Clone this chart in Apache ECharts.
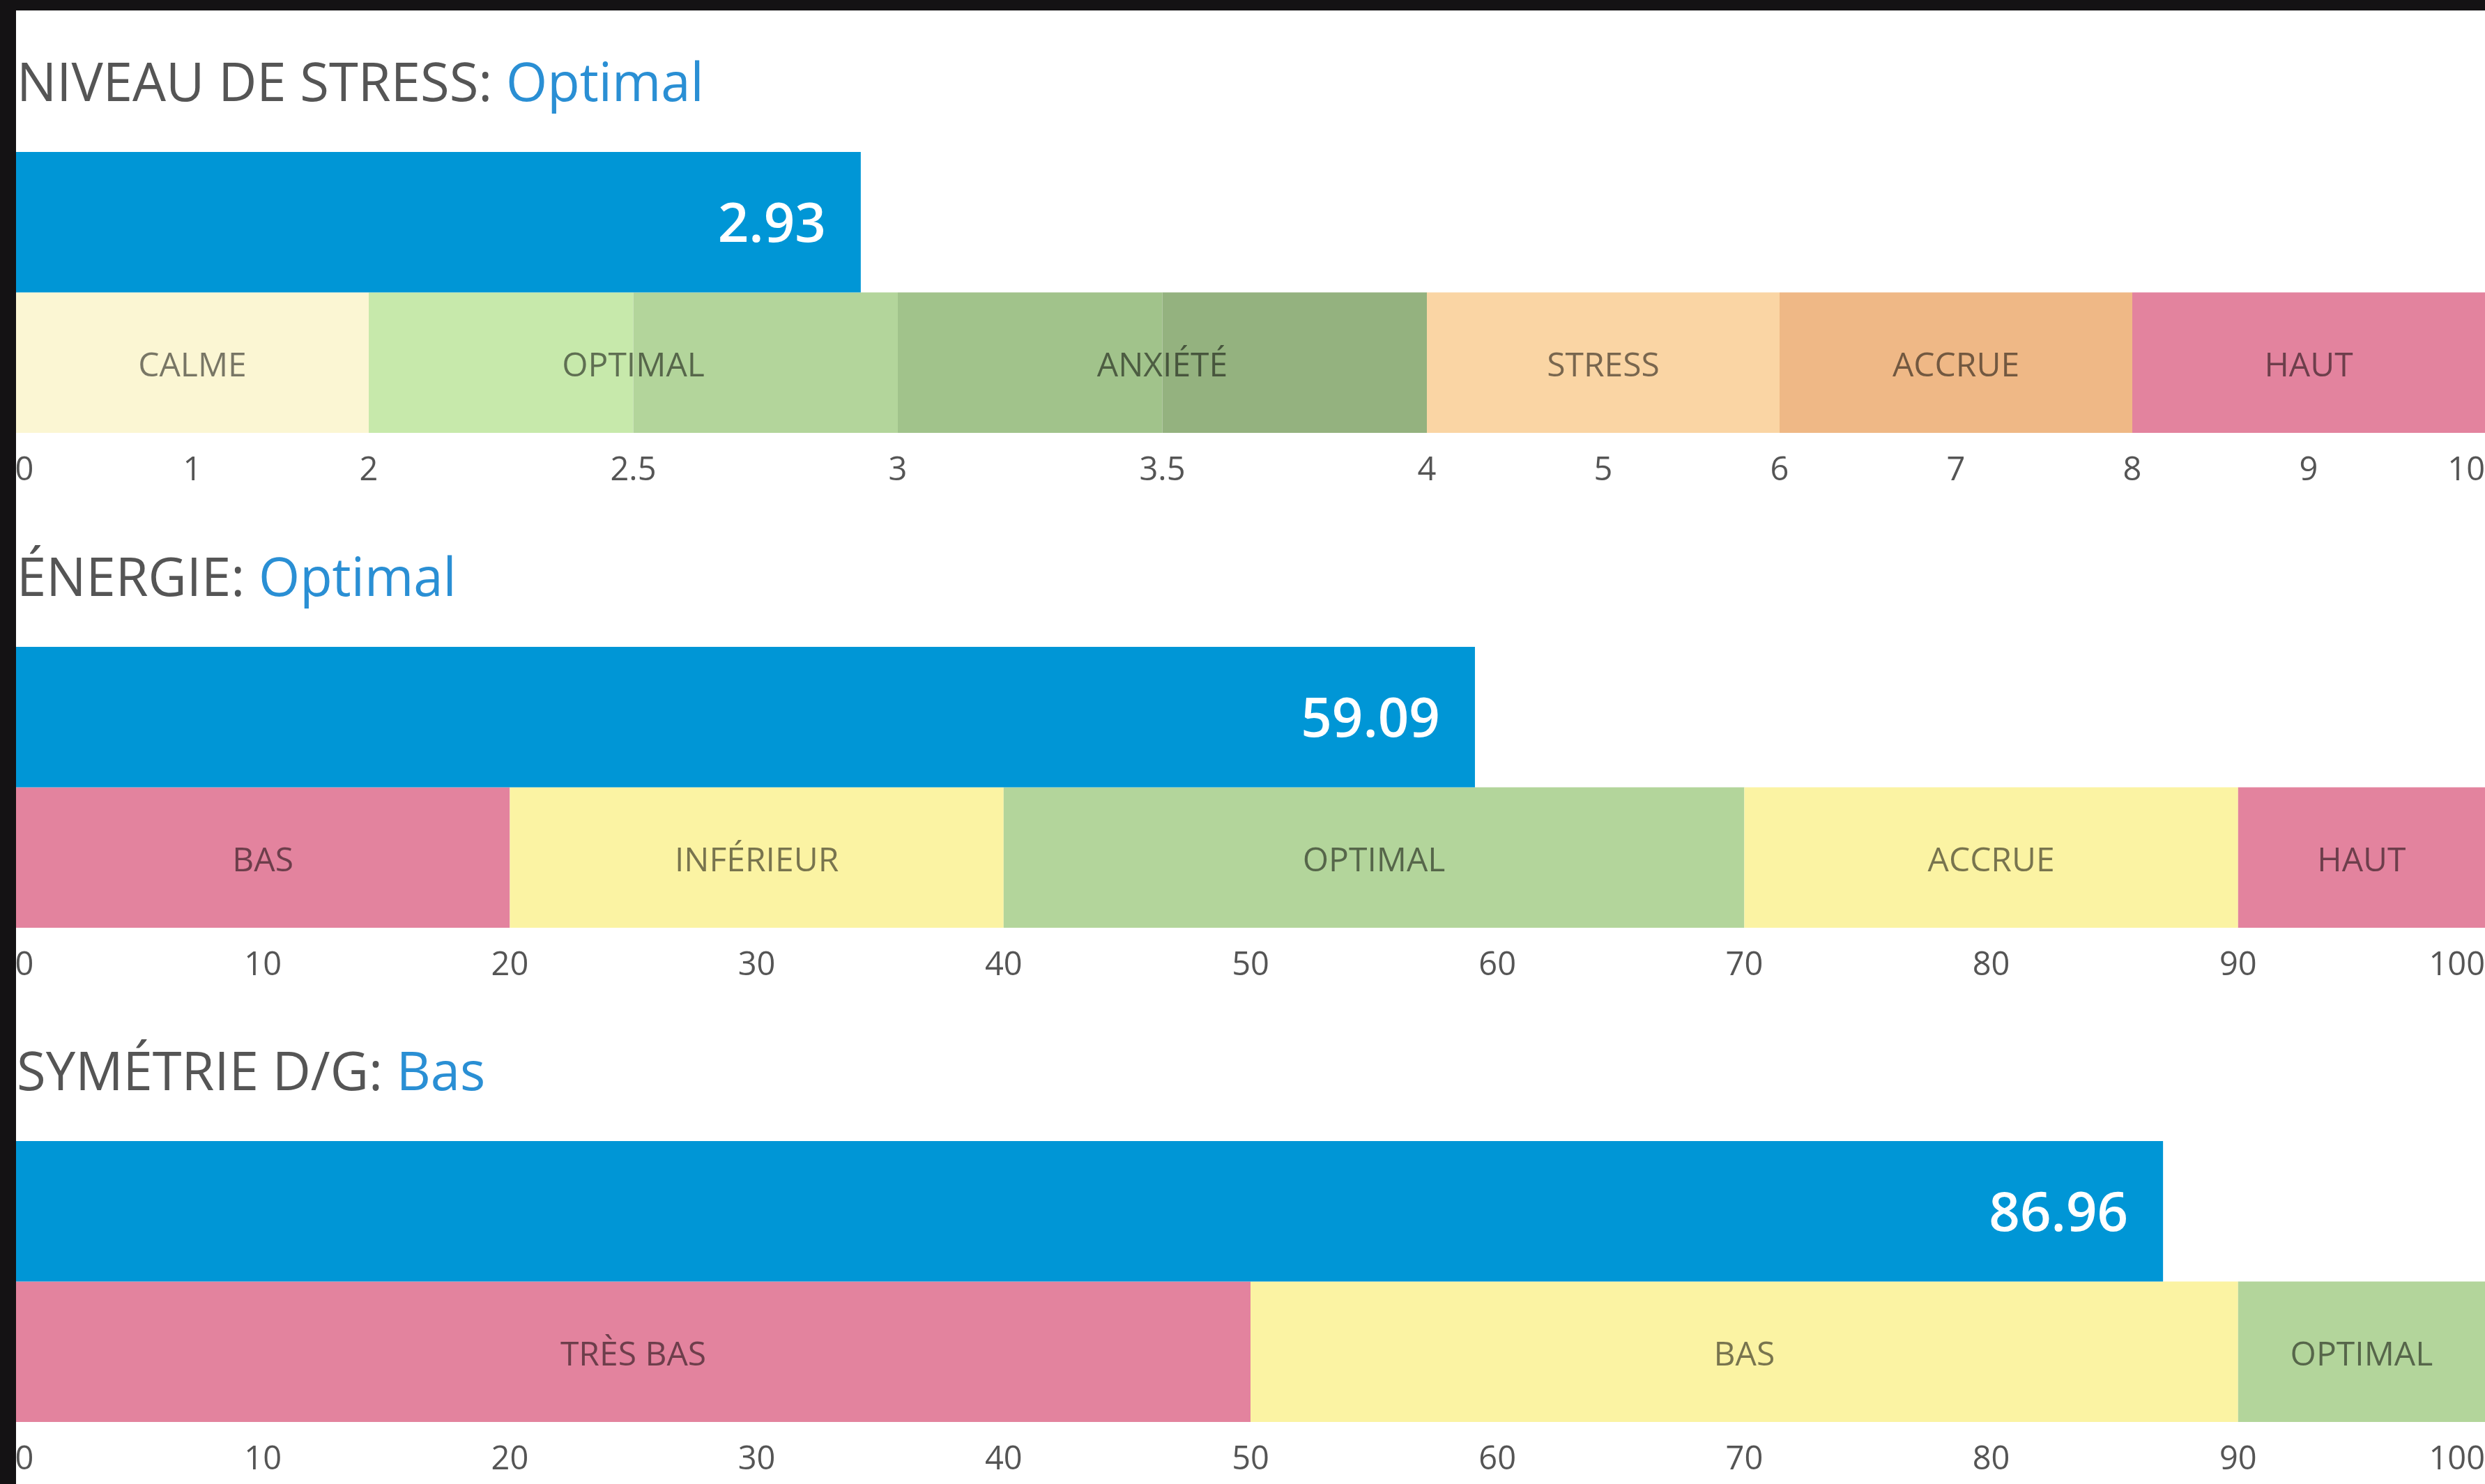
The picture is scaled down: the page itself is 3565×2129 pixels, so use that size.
<!DOCTYPE html>
<html>
<head>
<meta charset="utf-8">
<script src="https://cdn.jsdelivr.net/npm/echarts@6/dist/echarts.min.js"></script>
<style>
  html, body { margin: 0; padding: 0; background: #141214; }
  #chart { width: 3565px; height: 2129px; }
</style>
</head>
<body>
<div id="chart"></div>
<script>
// ---------------- DATA ----------------
const metricNames = ['NIVEAU DE STRESS', 'ÉNERGIE', 'SYMÉTRIE D/G'];
const metricStatus = ['Optimal', 'Optimal', 'Bas'];
const metricValues = [2.93, 59.09, 86.96];

const stressTicks = [0, 1, 2, 2.5, 3, 3.5, 4, 5, 6, 7, 8, 9, 10];
const stressZoneNames = ['CALME', 'OPTIMAL', 'ANXIÉTÉ', 'STRESS', 'ACCRUE', 'HAUT'];
const stressZoneBounds = [0, 2, 3, 4, 6, 8, 10];
const stressToneBounds = [0, 2, 2.5, 3, 3.5, 4, 6, 8, 10];

const energyTicks = [0, 10, 20, 30, 40, 50, 60, 70, 80, 90, 100];
const energyZoneNames = ['BAS', 'INFÉRIEUR', 'OPTIMAL', 'ACCRUE', 'HAUT'];
const energyZoneBounds = [0, 20, 40, 70, 90, 100];

const symTicks = [0, 10, 20, 30, 40, 50, 60, 70, 80, 90, 100];
const symZoneNames = ['TRÈS BAS', 'BAS', 'OPTIMAL'];
const symZoneBounds = [0, 50, 90, 100];

// ---------------- STYLE / LAYOUT ----------------
// display units of the stress scale (zones are drawn with uneven widths)
const stressScaleUnits = [0, 1, 2, 3.5, 5, 6.5, 8, 9, 10, 11, 12, 13, 14];
const stressToneColors = ['#fbf6d3', '#c7e9ab', '#b3d59b', '#a1c38b', '#94b27f', '#fad5a4', '#efb886', '#e3839e'];
const energyToneColors = ['#e3839e', '#fbf3a3', '#b3d59b', '#fbf3a3', '#e3839e'];
const symToneColors = ['#e3839e', '#fbf3a3', '#b3d59b'];

const FONT = '"Open Sans", "Noto Sans", sans-serif';
const BLUE = '#0096d6';
const W = 3565, H = 2129;
const LEFT = 23;
const BAR_TOPS = [218, 928, 1637];
const ROW_H = 201.5;

function makeScale(ticks, units) {
  return function (v) {
    for (let i = 0; i < ticks.length - 1; i++) {
      if (v >= ticks[i] && v <= ticks[i + 1]) {
        const t = (v - ticks[i]) / (ticks[i + 1] - ticks[i]);
        return units[i] + t * (units[i + 1] - units[i]);
      }
    }
    return v <= ticks[0] ? units[0] : units[units.length - 1];
  };
}

const panels = [
  { ticks: stressTicks, units: stressScaleUnits, zoneNames: stressZoneNames, zoneBounds: stressZoneBounds,
    toneBounds: stressToneBounds, toneColors: stressToneColors },
  { ticks: energyTicks, units: energyTicks, zoneNames: energyZoneNames, zoneBounds: energyZoneBounds,
    toneBounds: energyZoneBounds, toneColors: energyToneColors },
  { ticks: symTicks, units: symTicks, zoneNames: symZoneNames, zoneBounds: symZoneBounds,
    toneBounds: symZoneBounds, toneColors: symToneColors }
];

const grids = [], xAxes = [], yAxes = [], series = [], titles = [];

panels.forEach(function (p, i) {
  const scale = makeScale(p.ticks, p.units);
  const maxU = p.units[p.units.length - 1];

  grids.push({ left: LEFT, right: 0, top: BAR_TOPS[i], height: ROW_H * 2, containLabel: false, outerBoundsMode: 'none' });

  xAxes.push({
    type: 'value', gridIndex: i, min: 0, max: maxU,
    splitLine: { show: false }, axisLine: { show: false },
    axisTick: { show: false, customValues: p.units },
    axisLabel: {
      customValues: p.units,
      showMinLabel: true, showMaxLabel: true,
      alignMaxLabel: 'right',
      margin: 31,
      fontFamily: FONT, fontSize: 47, color: '#555',
      formatter: function (val) {
        const k = p.units.findIndex(function (u) { return Math.abs(u - val) < 1e-6; });
        if (k < 0) return '';
        if (k === 0) return '{first|' + p.ticks[k] + '}';
        return String(p.ticks[k]);
      },
      rich: {
        first: { fontFamily: FONT, fontSize: 47, color: '#555', padding: [0, 0, 0, 24] }
      }
    }
  });

  yAxes.push({
    type: 'category', gridIndex: i, inverse: true, data: ['bar', 'band'],
    show: false
  });

  // zone backgrounds
  const toneData = [];
  for (let k = 0; k < p.toneBounds.length - 1; k++) {
    toneData.push([scale(p.toneBounds[k]), scale(p.toneBounds[k + 1]), k]);
  }
  series.push({
    type: 'custom', xAxisIndex: i, yAxisIndex: i, silent: true,
    data: toneData,
    encode: { x: [0, 1] },
    renderItem: function (params, api) {
      const x0 = api.coord([api.value(0), 1])[0];
      const x1 = api.coord([api.value(1), 1])[0];
      const yc = api.coord([0, 1])[1];
      const h = api.size([0, 1])[1];
      return { type: 'rect', shape: { x: x0, y: yc - h / 2, width: x1 - x0, height: h },
        style: { fill: p.toneColors[api.value(2)] } };
    }
  });

  // zone labels
  const labelData = [];
  for (let k = 0; k < p.zoneNames.length; k++) {
    labelData.push([(scale(p.zoneBounds[k]) + scale(p.zoneBounds[k + 1])) / 2]);
  }
  series.push({
    type: 'custom', xAxisIndex: i, yAxisIndex: i, silent: true, z: 5,
    data: labelData,
    encode: { x: 0 },
    renderItem: function (params, api) {
      const pt = api.coord([api.value(0), 1]);
      return { type: 'text', x: pt[0], y: pt[1] + 6,
        style: { text: p.zoneNames[params.dataIndex], fill: 'rgba(0,0,0,0.52)',
          font: '48px ' + FONT, align: 'center', verticalAlign: 'middle' } };
    }
  });

  // measured value bar
  series.push({
    type: 'bar', xAxisIndex: i, yAxisIndex: i, barWidth: '100%', z: 4,
    data: [scale(metricValues[i]), '-'],
    itemStyle: { color: BLUE },
    label: {
      show: true, position: 'insideRight', distance: 50, offset: [0, 6],
      formatter: function () { return metricValues[i].toFixed(2); },
      color: '#fff', fontFamily: FONT, fontWeight: 600, fontSize: 78
    }
  });

  titles.push({
    left: 24, top: BAR_TOPS[i] - 145, padding: 0,
    text: '{a|' + metricNames[i] + ': }{b|' + metricStatus[i] + '}',
    textStyle: {
      fontWeight: 'normal',
      rich: {
        a: { fontFamily: FONT, fontSize: 76, fontWeight: 'normal', color: '#555', lineHeight: 100 },
        b: { fontFamily: FONT, fontSize: 76, fontWeight: 'normal', color: '#2a8fd4', lineHeight: 100 }
      }
    }
  });
});

const chart = echarts.init(document.getElementById('chart'), null, { renderer: 'canvas', width: W, height: H });
chart.setOption({
  backgroundColor: '#ffffff',
  animation: false,
  title: titles,
  grid: grids,
  xAxis: xAxes,
  yAxis: yAxes,
  series: series,
  graphic: [
    { type: 'rect', z: 100, shape: { x: 0, y: 0, width: LEFT, height: H }, style: { fill: '#141214' } },
    { type: 'rect', z: 100, shape: { x: 0, y: 0, width: W, height: 15 }, style: { fill: '#141214' } }
  ]
});
</script>
</body>
</html>
